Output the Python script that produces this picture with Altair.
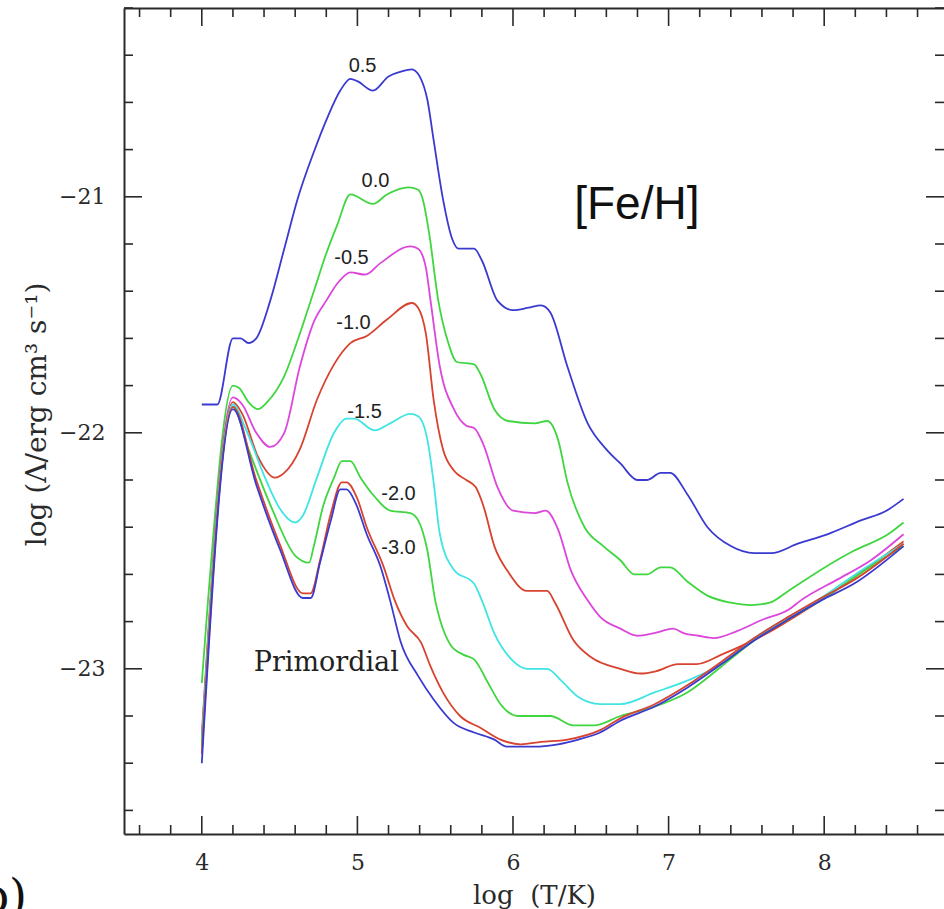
import altair as alt
import numpy as np
import pandas as pd

# Cooling functions log Lambda(T) for several iron abundances [Fe/H]
t_p05 = [4.00, 4.10, 4.20, 4.25, 4.30, 4.35, 4.44, 4.53, 4.62, 4.72, 4.81, 4.89, 4.955, 5.00, 5.10,
         5.20, 5.28, 5.35, 5.40, 5.45, 5.49, 5.55, 5.61, 5.65, 5.75, 5.80, 5.90, 6.00, 6.10, 6.18,
         6.24, 6.35, 6.48, 6.60, 6.69, 6.80, 6.86, 6.95, 7.01, 7.12, 7.25, 7.40, 7.55, 7.66, 7.83,
         8.02, 8.24, 8.40, 8.51]
lam_p05 = [-21.88, -21.88, -21.60, -21.60, -21.62, -21.60, -21.44, -21.22, -21.00, -20.81, -20.66,
           -20.55, -20.50, -20.51, -20.55, -20.49, -20.47, -20.46, -20.49, -20.59, -20.76, -21.01,
           -21.18, -21.22, -21.22, -21.27, -21.44, -21.48, -21.47, -21.46, -21.49, -21.72, -21.96,
           -22.07, -22.13, -22.20, -22.20, -22.17, -22.17, -22.26, -22.40, -22.48, -22.51, -22.51,
           -22.47, -22.43, -22.37, -22.33, -22.28]

t_00 = [4.00, 4.04, 4.20, 4.24, 4.30, 4.36, 4.42, 4.53, 4.63, 4.72, 4.80, 4.87, 4.955, 5.10, 5.19,
        5.33, 5.39, 5.42, 5.46, 5.52, 5.58, 5.64, 5.75, 5.79, 5.88, 5.97, 6.14, 6.22, 6.29, 6.35,
        6.46, 6.58, 6.69, 6.78, 6.86, 6.95, 7.01, 7.12, 7.25, 7.40, 7.53, 7.65, 7.77, 7.98, 8.19,
        8.41, 8.51]
lam_00 = [-23.06, -22.71, -21.80, -21.81, -21.87, -21.90, -21.87, -21.76, -21.58, -21.40, -21.24,
          -21.12, -20.99, -21.03, -20.99, -20.96, -20.97, -21.01, -21.15, -21.44, -21.61, -21.70,
          -21.71, -21.75, -21.90, -21.95, -21.96, -21.95, -22.03, -22.21, -22.40, -22.48, -22.54,
          -22.60, -22.60, -22.57, -22.57, -22.63, -22.69, -22.72, -22.73, -22.72, -22.67, -22.58,
          -22.50, -22.43, -22.38]

t_m05 = [4.00, 4.20, 4.26, 4.35, 4.44, 4.53, 4.63, 4.72, 4.80, 4.88, 4.955, 5.05, 5.15, 5.34, 5.39,
         5.44, 5.47, 5.53, 5.62, 5.70, 5.75, 5.81, 5.90, 6.00, 6.14, 6.21, 6.29, 6.37, 6.48, 6.56,
         6.69, 6.80, 6.90, 7.03, 7.10, 7.19, 7.29, 7.44, 7.61, 7.77, 7.85, 8.09, 8.30, 8.51]
lam_m05 = [-23.28, -21.85, -21.88, -22.00, -22.06, -22.00, -21.72, -21.53, -21.44, -21.36, -21.32,
           -21.33, -21.28, -21.21, -21.22, -21.30, -21.44, -21.72, -21.90, -21.97, -21.98, -22.05,
           -22.23, -22.33, -22.34, -22.33, -22.41, -22.58, -22.71, -22.78, -22.83, -22.86, -22.85,
           -22.83, -22.85, -22.86, -22.87, -22.84, -22.79, -22.75, -22.71, -22.62, -22.54, -22.43]

t_m10 = [4.00, 4.20, 4.26, 4.36, 4.47, 4.53, 4.63, 4.74, 4.85, 4.955, 5.06, 5.19, 5.35, 5.39, 5.44,
         5.49, 5.55, 5.62, 5.70, 5.76, 5.81, 5.88, 5.97, 6.09, 6.22, 6.27, 6.39, 6.50, 6.69, 6.82,
         6.92, 7.06, 7.18, 7.34, 7.51, 7.66, 7.81, 7.98, 8.20, 8.51]
lam_m10 = [-23.30, -21.87, -21.92, -22.10, -22.19, -22.17, -22.07, -21.86, -21.71, -21.62, -21.59,
           -21.52, -21.45, -21.47, -21.58, -21.86, -22.07, -22.16, -22.20, -22.23, -22.31, -22.48,
           -22.59, -22.67, -22.67, -22.72, -22.88, -22.95, -23.00, -23.02, -23.01, -22.98, -22.98,
           -22.94, -22.89, -22.84, -22.78, -22.71, -22.61, -22.46]

t_m15 = [4.00, 4.20, 4.28, 4.40, 4.50, 4.60, 4.65, 4.74, 4.85, 4.93, 4.98, 5.11, 5.21, 5.34, 5.39,
         5.45, 5.49, 5.53, 5.62, 5.75, 5.80, 5.88, 5.99, 6.09, 6.22, 6.31, 6.42, 6.56, 6.69, 6.91,
         7.12, 7.34, 7.55, 7.77, 7.98, 8.20, 8.51]
lam_m15 = [-23.31, -21.88, -21.98, -22.18, -22.32, -22.38, -22.35, -22.19, -22.00, -21.94, -21.94,
           -21.99, -21.96, -21.92, -21.93, -22.03, -22.21, -22.43, -22.58, -22.64, -22.71, -22.85,
           -22.96, -23.00, -23.00, -23.05, -23.12, -23.15, -23.15, -23.10, -23.05, -22.98, -22.87,
           -22.78, -22.70, -22.60, -22.47]

t_m20 = [4.00, 4.20, 4.30, 4.45, 4.60, 4.69, 4.72, 4.78, 4.85, 4.90, 4.955, 5.02, 5.11, 5.21, 5.34,
         5.39, 5.45, 5.50, 5.53, 5.60, 5.68, 5.75, 5.84, 5.92, 6.03, 6.24, 6.39, 6.52, 6.69, 6.91,
         7.12, 7.34, 7.55, 7.77, 7.98, 8.20, 8.51]
lam_m20 = [-23.33, -21.89, -22.07, -22.32, -22.52, -22.55, -22.48, -22.31, -22.19, -22.12, -22.12,
           -22.19, -22.27, -22.33, -22.34, -22.37, -22.50, -22.71, -22.79, -22.90, -22.94, -22.96,
           -23.06, -23.15, -23.20, -23.20, -23.24, -23.24, -23.20, -23.16, -23.10, -22.99, -22.88,
           -22.79, -22.71, -22.61, -22.48]

t_m30 = [4.00, 4.20, 4.35, 4.50, 4.65, 4.70, 4.76, 4.83, 4.90, 4.93, 5.00, 5.06, 5.17, 5.24, 5.32,
         5.41, 5.47, 5.55, 5.66, 5.79, 5.92, 6.05, 6.18, 6.35, 6.56, 6.69, 6.91, 7.12, 7.34, 7.55,
         7.77, 7.98, 8.20, 8.51]
lam_m30 = [-23.36, -21.89, -22.20, -22.47, -22.68, -22.68, -22.54, -22.34, -22.21, -22.21, -22.28,
           -22.40, -22.57, -22.71, -22.82, -22.89, -22.99, -23.10, -23.20, -23.25, -23.30, -23.32,
           -23.31, -23.30, -23.26, -23.21, -23.15, -23.07, -22.97, -22.87, -22.78, -22.70, -22.62,
           -22.47]

t_prim = [4.00, 4.20, 4.35, 4.50, 4.65, 4.70, 4.76, 4.83, 4.89, 4.93, 4.99, 5.06, 5.15, 5.21, 5.28,
          5.39, 5.49, 5.62, 5.75, 5.88, 5.96, 6.13, 6.29, 6.42, 6.56, 6.69, 6.91, 7.12, 7.34, 7.55,
          7.77, 7.98, 8.19, 8.51]
lam_prim = [-23.40, -21.90, -22.22, -22.49, -22.70, -22.70, -22.55, -22.37, -22.24, -22.24, -22.30,
            -22.43, -22.57, -22.71, -22.89, -23.03, -23.13, -23.23, -23.27, -23.30, -23.33, -23.33,
            -23.32, -23.30, -23.27, -23.22, -23.16, -23.08, -22.98, -22.88, -22.79, -22.71, -22.64,
            -22.48]

track_names = ["0.5", "0.0", "-0.5", "-1.0", "-1.5", "-2.0", "-3.0", "prim"]
track_colors = ["#3a3ad0", "#40d640", "#dc46dc", "#d8432f", "#40e4e4", "#40d640", "#d8432f", "#3a3ad0"]
tracks = [t_p05, t_00, t_m05, t_m10, t_m15, t_m20, t_m30, t_prim]
lams = [lam_p05, lam_00, lam_m05, lam_m10, lam_m15, lam_m20, lam_m30, lam_prim]

rows = []
for k, (name, ts, ls) in enumerate(zip(track_names, tracks, lams)):
    for t, l in zip(ts, ls):
        rows.append({"track": name, "z": k, "logT": t, "logL": l})
curves_df = pd.DataFrame(rows)

# Curve annotations
label_text = ["0.5", "0.0", "-0.5", "-1.0", "-1.5", "-2.0", "-3.0"]
label_x = [5.033, 5.116, 4.962, 4.975, 5.046, 5.264, 5.264]
label_y = [-20.447, -20.934, -21.26, -21.536, -21.91, -22.26, -22.49]
labels_df = pd.DataFrame({"text": label_text, "x": label_x, "y": label_y})

# Axis tick positions
x_major = [4, 5, 6, 7, 8]
y_major = [-23, -22, -21]
x_minor = [round(v, 1) for v in np.arange(3.6, 8.77, 0.2) if abs(v - round(v)) > 0.05]
y_minor = [round(v, 1) for v in np.arange(-23.6, -20.19, 0.2) if abs(v - round(v)) > 0.05]

W, H = 820, 826
MAJ, MIN = 18, 9
INK = "#2a2a2a"
SERIF = "DejaVu Serif"
SANS = "Liberation Sans"

xs = alt.Scale(domain=[3.5, 8.77], nice=False, zero=False)
ys = alt.Scale(domain=[-23.7, -20.2], nice=False, zero=False)

curves = alt.Chart(curves_df).mark_line(strokeWidth=1.8, clip=True, interpolate="monotone").encode(
    x=alt.X("logT:Q", scale=xs, axis=alt.Axis(
        values=x_major, format="d", title="log\u00a0\u00a0(T/K)", orient="bottom",
        ticks=False, tickSize=0, domain=True, domainColor=INK, domainWidth=2,
        labelFont=SERIF, labelFontSize=22, labelColor=INK, labelPadding=18,
        titleFont=SERIF, titleFontSize=26, titleFontWeight="normal", titleColor=INK,
        titleX=410, titleY=61, titleBaseline="middle", titleAlign="center", grid=False)),
    y=alt.Y("logL:Q", scale=ys, axis=alt.Axis(
        values=y_major, format="d", title="log (\u039b/erg cm\u00b3 s\u207b\u00b9)", orient="left",
        ticks=False, tickSize=0, domain=True, domainColor=INK, domainWidth=2,
        labelFont=SERIF, labelFontSize=22, labelColor=INK, labelPadding=19,
        titleFont=SERIF, titleFontSize=28, titleFontWeight="normal", titleColor=INK,
        titleX=-87, titleY=406, titleAngle=270, titleBaseline="middle", titleAlign="center",
        grid=False)),
    color=alt.Color("track:N", scale=alt.Scale(domain=track_names, range=track_colors), legend=None),
    detail="track:N",
    order="logT:Q",
)

# Top frame edge carried by a second x axis without labels
top_frame = alt.Chart(pd.DataFrame({"v": x_major})).mark_point(opacity=0).encode(
    x=alt.X("v:Q", scale=xs, axis=alt.Axis(orient="top", labels=False, ticks=False, tickSize=0,
                                          domain=True, domainColor=INK, domainWidth=2,
                                          title=None, grid=False)),
)


def x_ticks(vals, length, top):
    y0, y1 = (0, length) if top else (H, H - length)
    return alt.Chart(pd.DataFrame({"v": vals})).mark_rule(color=INK, strokeWidth=1.6).encode(
        x=alt.X("v:Q", scale=xs, axis=None), y=alt.value(y0), y2=alt.value(y1))


def y_ticks(vals, length, right):
    x0, x1 = (W, W - length) if right else (0, length)
    return alt.Chart(pd.DataFrame({"v": vals})).mark_rule(color=INK, strokeWidth=1.6).encode(
        y=alt.Y("v:Q", scale=ys, axis=None), x=alt.value(x0), x2=alt.value(x1))


tick_layers = [
    x_ticks(x_major, MAJ, False), x_ticks(x_minor, MIN, False),
    x_ticks(x_major, MAJ, True), x_ticks(x_minor, MIN, True),
    y_ticks(y_major, MAJ, False), y_ticks(y_minor, MIN, False),
    y_ticks(y_major, MAJ, True), y_ticks(y_minor, MIN, True),
]

track_labels = alt.Chart(labels_df).mark_text(
    font=SANS, fontSize=20, color="#222222", align="center", baseline="middle").encode(
    x=alt.X("x:Q", scale=xs, axis=None), y=alt.Y("y:Q", scale=ys, axis=None), text="text:N")

prim_label = alt.Chart(pd.DataFrame({"text": ["Primordial"], "x": [4.80], "y": [-22.975]})).mark_text(
    font=SERIF, fontSize=27, color="#222222", align="center", baseline="middle").encode(
    x=alt.X("x:Q", scale=xs, axis=None), y=alt.Y("y:Q", scale=ys, axis=None), text="text:N")

feh_label = alt.Chart(pd.DataFrame({"text": ["[Fe/H]"], "x": [6.796], "y": [-21.036]})).mark_text(
    font=SANS, fontSize=46, color="#111111", align="center", baseline="middle").encode(
    x=alt.X("x:Q", scale=xs, axis=None), y=alt.Y("y:Q", scale=ys, axis=None), text="text:N")

# Panel letter at the lower left corner of the figure
panel_label = alt.Chart(pd.DataFrame({"text": ["(b)"], "x": [2.877], "y": [-24.03]})).mark_text(
    font=SERIF, fontSize=46, color="#111111", align="right", baseline="alphabetic").encode(
    x=alt.X("x:Q", scale=xs, axis=None), y=alt.Y("y:Q", scale=ys, axis=None), text="text:N")

chart = alt.layer(
    curves, top_frame, *tick_layers, track_labels, prim_label, feh_label, panel_label
).resolve_axis(x="independent", y="independent").properties(
    width=W, height=H,
    autosize=alt.AutoSizeParams(type="none"),
    padding={"left": 124, "top": 8, "right": 0, "bottom": 75},
    background="white",
).configure_view(stroke=None)

chart.save("out.html", embed_options={"renderer": "svg", "actions": False})
